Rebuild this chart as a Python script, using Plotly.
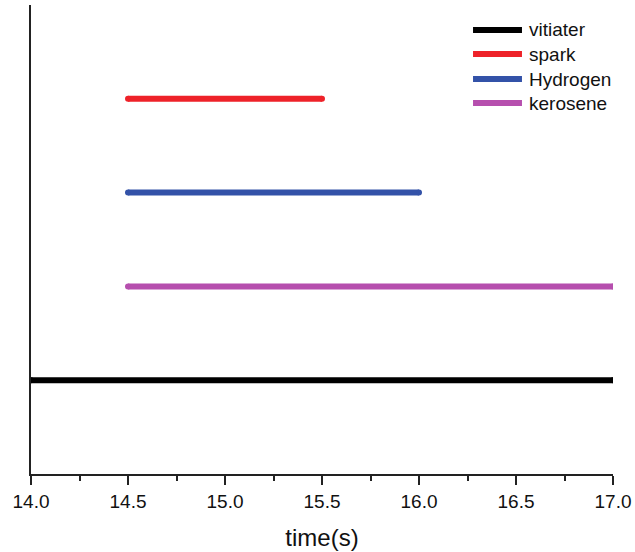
import plotly.graph_objects as go

# Series: name, level on the y axis, start / end time (s), colour
names = ["vitiater", "spark", "Hydrogen", "kerosene"]
levels = [1, 4, 3, 2]
t_start = [14.0, 14.5, 14.5, 14.5]
t_end = [17.0, 15.5, 16.0, 17.0]
colors = ["#000000", "#ee2229", "#3352a8", "#b64fae"]

x_ticks = [14.0, 14.5, 15.0, 15.5, 16.0, 16.5, 17.0]
x_tick_text = ["14.0", "14.5", "15.0", "15.5", "16.0", "16.5", "17.0"]

FONT = "Liberation Sans, Arial, sans-serif"
LINE_W = 6

fig = go.Figure()
for name, lvl, a, b, c in zip(names, levels, t_start, t_end, colors):
    # round end markers give the strokes a rounded cap
    fig.add_trace(go.Scatter(
        x=[a, b], y=[lvl, lvl], mode="lines+markers", name=name,
        line=dict(color=c, width=LINE_W),
        marker=dict(color=c, size=LINE_W, line=dict(width=0)),
        showlegend=False, cliponaxis=True,
    ))

# Hand-built legend box in the upper right corner
leg_x0, leg_x1, leg_tx = 0.7595, 0.8436, 0.852
leg_rows = [0.9467, 0.8955, 0.8422, 0.791]
for name, c, ry in zip(names, colors, leg_rows):
    fig.add_shape(type="line", xref="paper", yref="paper",
                  x0=leg_x0, x1=leg_x1, y0=ry, y1=ry,
                  line=dict(color=c, width=LINE_W))
    fig.add_annotation(xref="paper", yref="paper", x=leg_tx, y=ry,
                       text=name, showarrow=False, xanchor="left",
                       yanchor="middle", font=dict(size=19, color="#111111",
                                                   family=FONT))

fig.update_layout(
    width=635, height=552,
    margin=dict(l=31, r=22, t=5, b=78),
    plot_bgcolor="white", paper_bgcolor="white",
    font=dict(family=FONT, size=19, color="#111111"),
    xaxis=dict(
        range=[14.0, 17.0], tickvals=x_ticks, ticktext=x_tick_text,
        showline=True, linecolor="#222222", linewidth=2,
        ticks="outside", ticklen=9, tickwidth=2, tickcolor="#222222",
        minor=dict(dtick=0.25, tick0=14.0, ticks="outside", ticklen=5,
                   tickwidth=2, tickcolor="#222222"),
        showgrid=False, zeroline=False,
        title=dict(text="time(s)", font=dict(size=24), standoff=18),
        tickfont=dict(size=19),
    ),
    yaxis=dict(
        range=[0, 5], showline=True, linecolor="#222222", linewidth=2,
        showticklabels=False, ticks="", showgrid=False, zeroline=False,
    ),
)

fig.write_html("out.html")
